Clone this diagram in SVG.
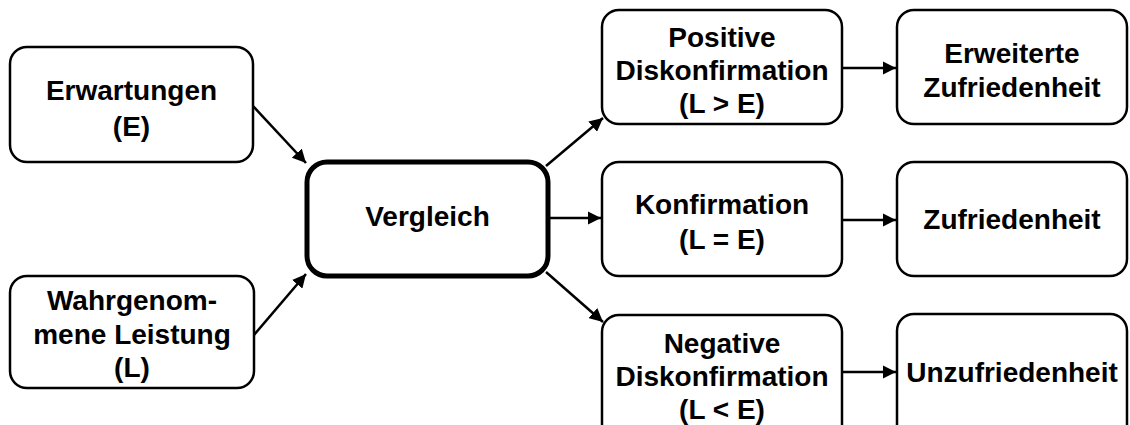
<svg xmlns="http://www.w3.org/2000/svg" width="1130" height="425" viewBox="0 0 1130 425">
  <style>
    .box { fill: #ffffff; stroke: #000000; stroke-width: 2.5; }
    .main { fill: #ffffff; stroke: #000000; stroke-width: 5; }
    .lbl { font-family: "Liberation Sans", Arial, sans-serif; font-weight: bold; font-size: 28px; fill: #000000; text-anchor: middle; }
    .edge { fill: none; stroke: #000000; stroke-width: 2.5; marker-end: url(#arrow); }
  </style>
  <defs>
    <!-- filled triangular arrowhead shared by all connectors -->
    <marker id="arrow" viewBox="0 0 10 10" refX="10" refY="5" markerWidth="5.4" markerHeight="5.4" orient="auto" markerUnits="strokeWidth">
      <path d="M0,0 L10,5 L0,10 z" fill="#000000"/>
    </marker>
  </defs>
  <rect width="1130" height="425" fill="#ffffff"/>

  <g id="connectors">
    <line class="edge" x1="253" y1="106" x2="306" y2="163"/>
    <line class="edge" x1="254" y1="335" x2="306" y2="274"/>
    <line class="edge" x1="546" y1="166" x2="603" y2="118"/>
    <line class="edge" x1="550" y1="218" x2="601" y2="218"/>
    <line class="edge" x1="546" y1="272" x2="603" y2="322"/>
    <line class="edge" x1="842" y1="68" x2="896" y2="68"/>
    <line class="edge" x1="842" y1="220" x2="896" y2="220"/>
    <line class="edge" x1="842" y1="372" x2="896" y2="372"/>
  </g>

  <g id="erwartungen">
    <rect class="box" x="10" y="47" width="243" height="115" rx="17"/>
    <text class="lbl" x="131.5" y="100">Erwartungen</text>
    <text class="lbl" x="131.5" y="136">(E)</text>
  </g>

  <g id="leistung">
    <rect class="box" x="10" y="276" width="244" height="112" rx="17"/>
    <text class="lbl" x="132" y="310">Wahrgenom-</text>
    <text class="lbl" x="132" y="344">mene Leistung</text>
    <text class="lbl" x="132" y="377">(L)</text>
  </g>

  <g id="vergleich">
    <rect class="main" x="307" y="162" width="241" height="114" rx="20"/>
    <text class="lbl" x="427.5" y="226">Vergleich</text>
  </g>

  <g id="positiv">
    <rect class="box" x="602" y="10" width="240" height="114" rx="17"/>
    <text class="lbl" x="722" y="47">Positive</text>
    <text class="lbl" x="722" y="80">Diskonfirmation</text>
    <text class="lbl" x="722" y="113">(L &gt; E)</text>
  </g>

  <g id="konfirmation">
    <rect class="box" x="602" y="162" width="240" height="114" rx="17"/>
    <text class="lbl" x="722" y="214">Konfirmation</text>
    <text class="lbl" x="722" y="249">(L = E)</text>
  </g>

  <g id="negativ">
    <rect class="box" x="602" y="315" width="240" height="130" rx="17"/>
    <text class="lbl" x="722" y="353">Negative</text>
    <text class="lbl" x="722" y="386">Diskonfirmation</text>
    <text class="lbl" x="722" y="419">(L &lt; E)</text>
  </g>

  <g id="erweitert">
    <rect class="box" x="897" y="10" width="230" height="114" rx="17"/>
    <text class="lbl" x="1012" y="63">Erweiterte</text>
    <text class="lbl" x="1012" y="97">Zufriedenheit</text>
  </g>

  <g id="zufrieden">
    <rect class="box" x="897" y="162" width="230" height="114" rx="17"/>
    <text class="lbl" x="1012" y="229">Zufriedenheit</text>
  </g>

  <g id="unzufrieden">
    <rect class="box" x="897" y="314" width="230" height="130" rx="17"/>
    <text class="lbl" x="1012" y="382">Unzufriedenheit</text>
  </g>
</svg>
